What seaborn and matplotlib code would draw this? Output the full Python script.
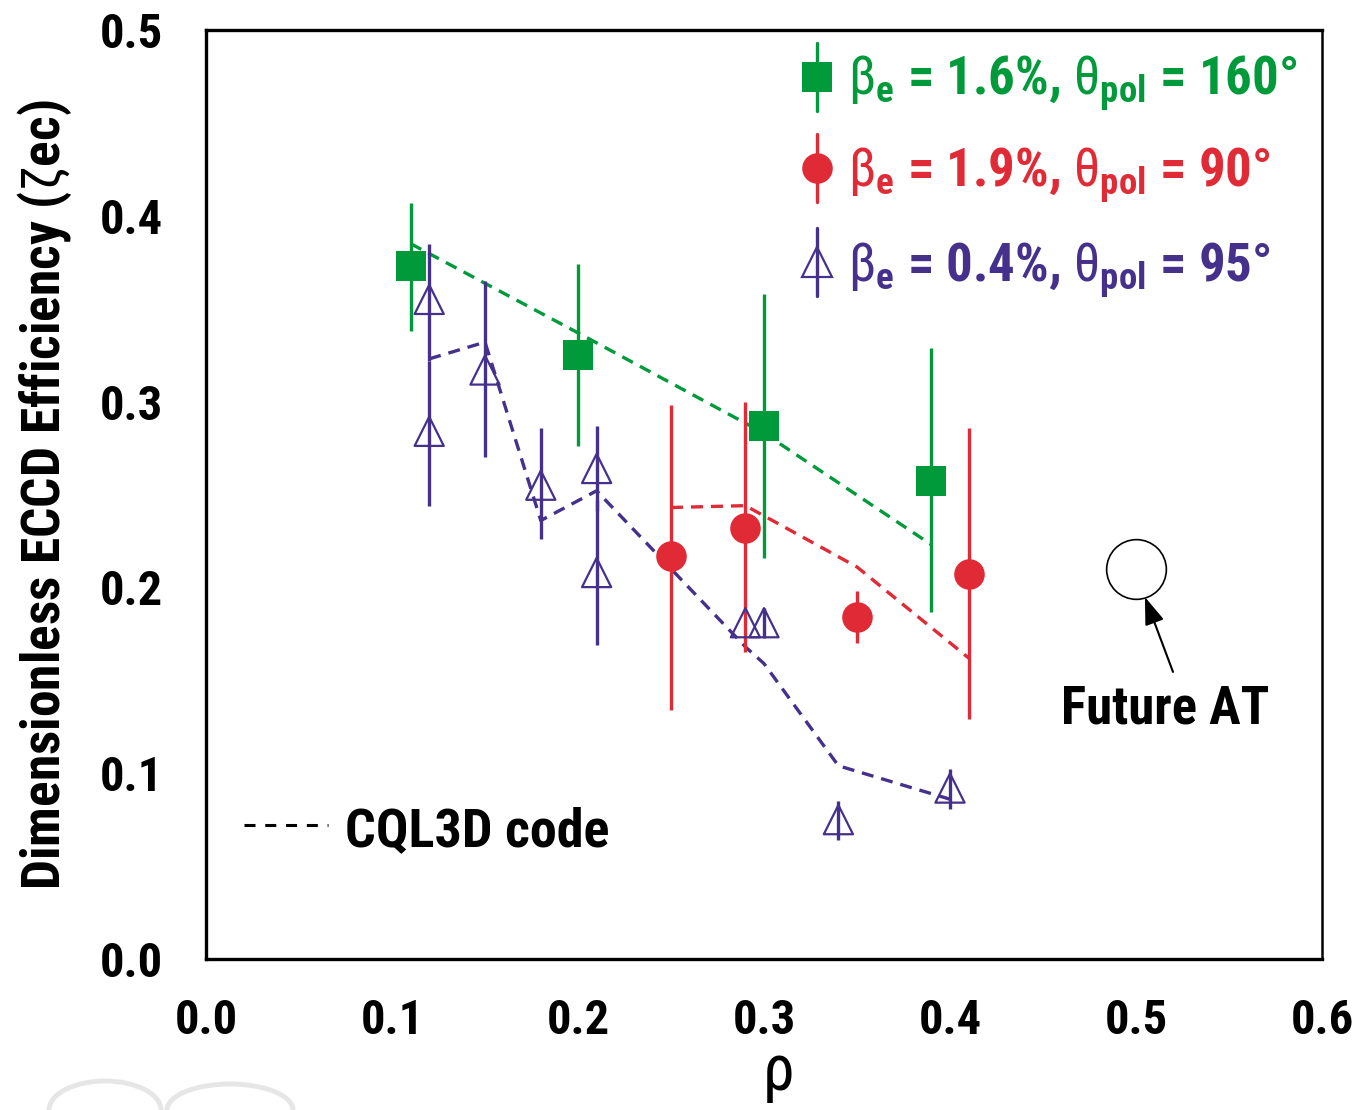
import numpy as np
import pandas as pd
import matplotlib
matplotlib.use("Agg")
import matplotlib.pyplot as plt
from matplotlib.patches import Arc
import seaborn as sns

# ---- measured ECCD efficiency (points with error bars) ----
green_rho = [0.11, 0.20, 0.30, 0.39]
green_zeta = [0.373, 0.325, 0.287, 0.257]
green_lo = [0.338, 0.276, 0.216, 0.187]
green_hi = [0.407, 0.374, 0.358, 0.329]

red_rho = [0.25, 0.29, 0.35, 0.41]
red_zeta = [0.217, 0.232, 0.184, 0.207]
red_lo = [0.134, 0.165, 0.170, 0.129]
red_hi = [0.298, 0.300, 0.198, 0.286]

purple_rho = [0.12, 0.12, 0.15, 0.18, 0.21, 0.21, 0.29, 0.30, 0.34, 0.40]
purple_zeta = [0.355, 0.284, 0.317, 0.255, 0.264, 0.208, 0.181, 0.181, 0.075, 0.092]
purple_lo = [0.322, 0.244, 0.270, 0.226, 0.241, 0.169, 0.181, 0.173, 0.064, 0.081]
purple_hi = [0.385, 0.322, 0.365, 0.286, 0.287, 0.247, 0.181, 0.189, 0.085, 0.102]

# ---- CQL3D code predictions ----
cql_green_rho = [0.11, 0.20, 0.30, 0.39]
cql_green_zeta = [0.385, 0.337, 0.283, 0.223]
cql_red_rho = [0.25, 0.29, 0.35, 0.41]
cql_red_zeta = [0.243, 0.244, 0.211, 0.162]
cql_purple_rho = [0.12, 0.15, 0.18, 0.21, 0.29, 0.30, 0.34, 0.40]
cql_purple_zeta = [0.323, 0.332, 0.236, 0.252, 0.168, 0.159, 0.104, 0.086]

# ---- future advanced-tokamak point ----
future_rho = [0.50]
future_zeta = [0.210]

series_labels = [
    r"$\mathrm{\beta}_{\mathbf{e}}$ = 1.6%, $\mathrm{\theta}_{\mathbf{pol}}$ = 160°",
    r"$\mathrm{\beta}_{\mathbf{e}}$ = 1.9%, $\mathrm{\theta}_{\mathbf{pol}}$ = 90°",
    r"$\mathrm{\beta}_{\mathbf{e}}$ = 0.4%, $\mathrm{\theta}_{\mathbf{pol}}$ = 95°",
]

GREEN = "#009A3A"
RED = "#E02A35"
PURPLE = "#45308C"

sns.set_theme(style="white")
FONT = "Roboto Condensed"
plt.rcParams["font.family"] = [FONT, "DejaVu Sans"]
plt.rcParams["font.weight"] = "bold"
plt.rcParams["mathtext.fontset"] = "custom"
plt.rcParams["mathtext.rm"] = FONT + ":weight=normal"
plt.rcParams["mathtext.bf"] = FONT + ":weight=bold"
plt.rcParams["mathtext.it"] = FONT + ":italic:weight=normal"

FS_TICK = 35
FS_TXT = 38

fig = plt.figure(figsize=(13.55, 11.10), dpi=100)
ax = fig.add_axes([206 / 1355, 1 - 959 / 1110, 1116 / 1355, 929 / 1110])

# model curves (dashed)
cql = pd.concat([
    pd.DataFrame({"rho": cql_green_rho, "zeta": cql_green_zeta, "case": "g"}),
    pd.DataFrame({"rho": cql_red_rho, "zeta": cql_red_zeta, "case": "r"}),
    pd.DataFrame({"rho": cql_purple_rho, "zeta": cql_purple_zeta, "case": "p"}),
])
palette = {"g": GREEN, "r": RED, "p": PURPLE}
sns.lineplot(data=cql, x="rho", y="zeta", hue="case", palette=palette,
             sort=False, estimator=None, legend=False, ax=ax, lw=2.4, zorder=2)
for ln in ax.get_lines():
    ln.set_dashes((3.6, 2.4))

# measured points
def bars(rho, lo, hi, color, z):
    ax.vlines(rho, lo, hi, color=color, lw=2.4, zorder=z)

bars(green_rho, green_lo, green_hi, GREEN, 3)
bars(red_rho, red_lo, red_hi, RED, 3)

meas = pd.DataFrame({"rho": green_rho, "zeta": green_zeta})
sns.scatterplot(data=meas, x="rho", y="zeta", marker="s", s=22 ** 2,
                color=GREEN, edgecolor=GREEN, linewidth=0, ax=ax, zorder=4)
meas = pd.DataFrame({"rho": red_rho, "zeta": red_zeta})
sns.scatterplot(data=meas, x="rho", y="zeta", marker="o", s=22 ** 2,
                color=RED, edgecolor=RED, linewidth=0, ax=ax, zorder=4)
meas = pd.DataFrame({"rho": purple_rho, "zeta": purple_zeta})
sns.scatterplot(data=meas, x="rho", y="zeta", marker="^", s=21 ** 2,
                facecolor="none", edgecolor=PURPLE, linewidth=1.6, ax=ax, zorder=4)
bars(purple_rho, purple_lo, purple_hi, PURPLE, 5)

# future AT point and pointer
ax.plot(future_rho, future_zeta, "o", ms=43, mfc="white", mec="black", mew=1.2, zorder=4)
ax.annotate("", xy=(0.5048, 0.1948), xytext=(0.5199, 0.1545),
            arrowprops=dict(arrowstyle="-|>,head_length=1.4,head_width=0.5",
                            color="black", lw=1.5, shrinkA=0, shrinkB=0))
ax.text(0.5156, 0.127, "Future AT", fontsize=FS_TXT, fontweight="bold",
        ha="center", va="baseline", color="black")

# model legend entry
ax.plot([0.0204, 0.0656], [0.0721, 0.0721], color="black", lw=2.2,
        dashes=(3.6, 3.2))
ax.text(0.0747, 0.0684, "CQL3D code", fontsize=FS_TXT + 1, fontweight="bold",
        ha="left", va="center", color="black")

# series legend (top right)
leg_y = [0.9494, 0.8515, 0.7503]
txt_y = [0.930, 0.831, 0.7288]
markers = [("s", GREEN, GREEN), ("o", RED, RED), ("^", "none", PURPLE)]
half = 0.0366
for (mk, fc, ec), ly, ty, lab in zip(markers, leg_y, txt_y, series_labels):
    ax.plot([0.5475, 0.5475], [ly - half, ly + half], color=ec, lw=2.4,
            transform=ax.transAxes, clip_on=False, zorder=5 if mk == "^" else 3)
    ax.plot([0.5475], [ly], marker=mk, ms=22 if mk != "^" else 21,
            mfc=fc, mec=ec, mew=0 if mk != "^" else 1.6,
            transform=ax.transAxes, clip_on=False, zorder=4)
    ax.text(0.575, ty, lab, fontsize=FS_TXT, fontweight="bold", color=ec,
            transform=ax.transAxes, ha="left", va="baseline")

# axes styling
ax.set_xlim(0.0, 0.6)
ax.set_ylim(0.0, 0.5)
ax.set_xticks(np.arange(0.0, 0.61, 0.1))
ax.set_yticks(np.arange(0.0, 0.51, 0.1))
ax.set_xticklabels([f"{v:.1f}" for v in np.arange(0.0, 0.61, 0.1)])
ax.set_yticklabels([f"{v:.1f}" for v in np.arange(0.0, 0.51, 0.1)])
ax.tick_params(axis="both", direction="out", length=19, width=1.6,
               labelsize=FS_TICK, color="black", labelcolor="black")
ax.tick_params(axis="x", pad=9)
ax.tick_params(axis="y", pad=12)
for lab in ax.get_xticklabels() + ax.get_yticklabels():
    lab.set_fontweight("bold")
for side in ["left", "bottom", "top"]:
    ax.spines[side].set_linewidth(2.4)
    ax.spines[side].set_color("black")
ax.spines["right"].set_linewidth(1.8)
ax.spines["right"].set_color("black")

ax.set_xlabel(r"$\mathrm{\rho}$", fontsize=46, color="black")
ax.xaxis.set_label_coords(0.512, -0.09)
ax.set_ylabel(r"Dimensionless ECCD Efficiency ($\mathrm{\zeta}$ec)",
              fontsize=38.5, fontweight="bold", color="black")
ax.yaxis.set_label_coords(-0.118, 0.5)

# faint logo outline in the lower-left corner
for cx, w, h in [(105, 112, 58), (230, 126, 52)]:
    fig.add_artist(Arc((cx, 0), w, h, theta1=0, theta2=180, transform=None,
                       color="#E6E6E6", lw=3.5))

fig.savefig("out.png", dpi=100)
